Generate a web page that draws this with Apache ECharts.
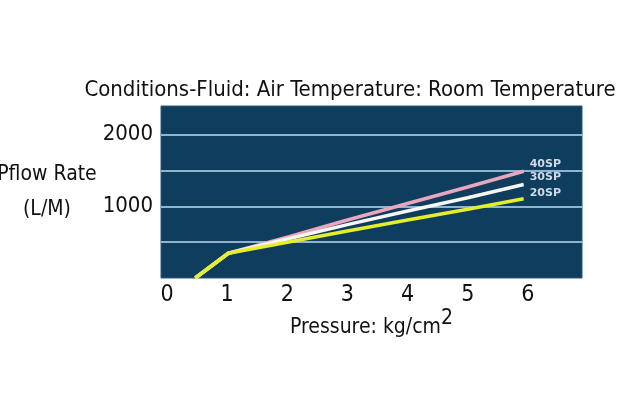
<!DOCTYPE html>
<html>
<head>
<meta charset="utf-8">
<script src="https://cdn.jsdelivr.net/npm/echarts@6/dist/echarts.min.js"></script>
<style>html,body{margin:0;padding:0;background:#fff;}#c{width:622px;height:418px;}</style>
</head>
<body>
<div id="c"></div>
<script>
var titleText = 'Conditions-Fluid: Air Temperature: Room Temperature';
var xTickLabels = [0, 1, 2, 3, 4, 5, 6];
var yTickLabels = [1000, 2000];
var seriesNames = ['40SP', '30SP', '20SP'];
var pressure = [0.47, 1.02, 2, 3, 4, 5, 5.93];
var flow40SP = [0, 345, 570, 810, 1040, 1270, 1490];
var flow30SP = [0, 345, 545, 745, 935, 1120, 1305];
var flow20SP = [0, 345, 500, 655, 810, 960, 1107];

function pairs(xs, ys) { return xs.map(function (x, i) { return [x, ys[i]]; }); }

var FONT = '"DejaVu Sans Condensed", "Liberation Sans Narrow", "DejaVu Sans", sans-serif';
var lineColors = ['#e9a6bd', '#f6f6f2', '#e4ee2a'];
var labelOffsets = [[-2, -7], [-2, -7], [-2, -6]];
var allFlows = [flow40SP, flow30SP, flow20SP];

var chart = echarts.init(document.getElementById('c'), null, { renderer: 'canvas' });
chart.setOption({
  backgroundColor: '#ffffff',
  animation: false,
  title: {
    text: titleText,
    left: 345, top: 74, textAlign: 'center',
    textStyle: { fontFamily: FONT, fontSize: 22, fontWeight: 'normal', color: '#111' }
  },
  grid: {
    left: 161, right: 40, top: 106, bottom: 140,
    show: true, backgroundColor: '#0f3d5e', borderColor: '#2c5a7a', borderWidth: 1,
    containLabel: false, outerBoundsMode: 'none'
  },
  xAxis: {
    type: 'value', min: -0.1, max: 6.9,
    name: 'Pressure: kg/cm{sup|2}',
    nameLocation: 'middle', nameGap: 27,
    nameTextStyle: {
      fontFamily: FONT, fontSize: 21, color: '#111',
      rich: { sup: { fontFamily: FONT, fontSize: 21, color: '#111', padding: [0, 0, 18, 0] } }
    },
    axisLine: { show: false }, axisTick: { show: false }, splitLine: { show: false },
    axisLabel: {
      customValues: xTickLabels, fontFamily: FONT, fontSize: 23, color: '#111', margin: 6,
      formatter: function (v) { return String(v); }
    }
  },
  yAxis: {
    type: 'value', min: 0, max: 2400, interval: 500,
    name: 'Pflow Rate\n(L/M)',
    nameLocation: 'middle', nameRotate: 0, nameGap: 106,
    nameTextStyle: { fontFamily: FONT, fontSize: 21, color: '#111', align: 'center', lineHeight: 35 },
    axisLine: { show: false }, axisTick: { show: false },
    axisLabel: {
      customValues: yTickLabels, fontFamily: FONT, fontSize: 22, color: '#111', margin: 8,
      formatter: function (v) { return String(v); }
    },
    splitLine: { show: true, showMinLine: false, showMaxLine: false, lineStyle: { color: '#8fb4cf', width: 2 } }
  },
  series: seriesNames.map(function (n, i) {
    return {
      name: n, type: 'line', data: pairs(pressure, allFlows[i]),
      symbol: 'none', clip: true, z: 2 + i,
      lineStyle: { color: lineColors[i], width: 3.5 },
      endLabel: {
        show: true, formatter: n, offset: labelOffsets[i],
        fontFamily: '"DejaVu Sans", sans-serif', fontSize: 11, fontWeight: 'bold', color: '#cfdbe6'
      }
    };
  })
});
</script>
</body>
</html>
